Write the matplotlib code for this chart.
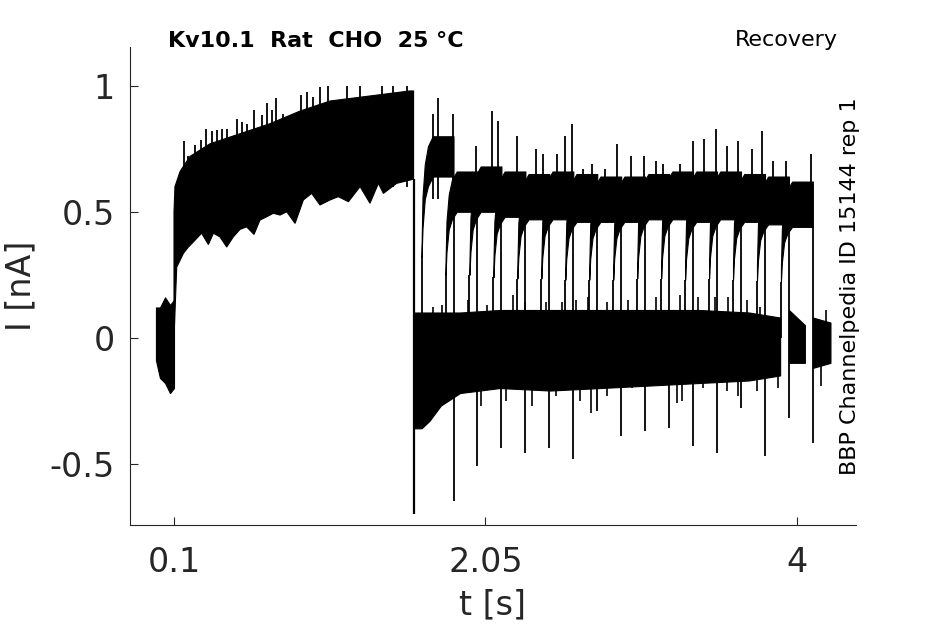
import numpy as np
import matplotlib.pyplot as plt

# holding before the first step (t in s, I in nA, envelope of the overlaid sweeps)
t_pre = [-0.013, 0.012, 0.044, 0.075, 0.1]
pre_hi = [0.12, 0.12, 0.16, 0.13, 0.15]
pre_lo = [-0.09, -0.16, -0.18, -0.22, -0.20]

# first (conditioning) pulse, 0.1 .. 1.6 s
t_p1_hi = [0.1, 0.106, 0.138, 0.2, 0.325, 0.513, 0.701, 0.889, 1.077, 1.327, 1.577, 1.6]
p1_hi = [0.50, 0.60, 0.66, 0.72, 0.77, 0.81, 0.85, 0.90, 0.94, 0.96, 0.98, 0.98]
t_p1_lo = [0.1, 0.117, 0.159, 0.19, 0.221, 0.273, 0.315, 0.347, 0.388, 0.43, 0.471,
           0.513, 0.555, 0.601, 0.638, 0.68, 0.722, 0.764, 0.806, 0.858, 0.91, 0.962,
           1.014, 1.077, 1.129, 1.192, 1.265, 1.327, 1.38, 1.411, 1.494, 1.578, 1.6]
p1_lo = [0.00, 0.28, 0.335, 0.36, 0.38, 0.415, 0.37, 0.415, 0.40, 0.36, 0.40,
         0.43, 0.44, 0.41, 0.467, 0.48, 0.494, 0.487, 0.50, 0.454, 0.547, 0.573,
         0.527, 0.547, 0.56, 0.54, 0.60, 0.534, 0.613, 0.573, 0.613, 0.626, 0.63]
p1_end_dip = -0.70

p1_spk_t = [0.163, 0.19, 0.231, 0.269, 0.30, 0.336, 0.371, 0.399, 0.43, 0.497, 0.524,
            0.555, 0.601, 0.649, 0.68, 0.712, 0.739, 0.785, 0.847, 0.893, 0.931, 0.968,
            1.014, 1.064, 1.183, 1.265, 1.403, 1.472, 1.56]
p1_spk_v = [0.78, 0.72, 0.765, 0.785, 0.83, 0.82, 0.825, 0.83, 0.83, 0.867, 0.858,
            0.85, 0.904, 0.884, 0.933, 0.904, 0.95, 0.89, 0.886, 0.964, 0.977, 0.957,
            0.997, 1.0, 1.0, 1.0, 1.0, 1.0, 1.0]

# holding between the pulses
t_hold = [1.6, 1.65, 1.70, 1.77, 1.89, 2.14, 2.455, 2.77, 3.08, 3.39, 3.70, 3.895]
hold_hi = [0.10, 0.10, 0.10, 0.10, 0.10, 0.11, 0.11, 0.11, 0.11, 0.11, 0.10, 0.08]
hold_lo = [-0.36, -0.36, -0.33, -0.27, -0.22, -0.20, -0.21, -0.20, -0.19, -0.18, -0.17, -0.15]
hold_spk_t = [1.72, 1.78, 1.94, 2.06, 2.22, 2.30, 2.43, 2.53, 2.62, 2.69, 2.81, 2.94,
              3.12, 3.27, 3.38, 3.49, 3.57, 3.69, 3.77]
hold_spk_v = [0.12, 0.13, 0.15, 0.13, 0.17, 0.14, 0.14, 0.14, 0.15, 0.16, 0.14, 0.15,
              0.16, 0.17, 0.16, 0.16, 0.16, 0.15, 0.12]
hold_dip_t = [2.02, 2.18, 2.34, 2.42, 2.49, 2.64, 2.71, 2.81, 2.97, 3.14, 3.25, 3.28,
              3.41, 3.56, 3.63, 3.75, 3.88]
hold_dip_v = [-0.27, -0.25, -0.27, -0.20, -0.23, -0.25, -0.30, -0.23, -0.20, -0.18, -0.26,
              -0.25, -0.20, -0.21, -0.23, -0.21, -0.20]

# tails of the last two sweeps
tail_t = [[3.95, 4.05], [4.10, 4.21]]
tail_hi = [[0.11, 0.05], [0.08, 0.06]]
tail_lo = [[-0.10, -0.10], [-0.12, -0.10]]
tail_spk_t = [4.18, 4.15]
tail_spk_v = [0.11, -0.19]

# second (test) pulses, one per sweep
t_on = [1.65, 1.80, 1.95, 2.10, 2.25, 2.40, 2.55, 2.70, 2.85, 3.00, 3.15, 3.30, 3.45, 3.60, 3.75, 3.90]
pulse_len = 0.2
plat_lo = [0.64, 0.50, 0.50, 0.48, 0.47, 0.47, 0.46, 0.46, 0.46, 0.47, 0.47, 0.46, 0.47, 0.46, 0.45, 0.44]
plat_hi = [0.80, 0.66, 0.68, 0.66, 0.65, 0.66, 0.65, 0.64, 0.64, 0.65, 0.66, 0.66, 0.66, 0.65, 0.64, 0.62]
end_dip = [-0.65, -0.51, -0.44, -0.46, -0.44, -0.48, -0.29, -0.39, -0.37, -0.36, -0.43, -0.46, -0.28, -0.47, -0.32, -0.42]

# activation shape of a test pulse (fraction of plateau)
rise_t = [0, 0.006, 0.02, 0.04, 0.07, 0.2]
rise_lo = [0.5, 0.68, 0.86, 0.94, 1.0, 1.0]
rise_hi = [0.45, 0.70, 0.86, 0.95, 1.0, 1.0]

top_spk_t = [1.722, 1.753, 1.847, 1.99, 2.091, 2.129, 2.248, 2.367, 2.41, 2.50, 2.549,
             2.592, 2.66, 2.72, 2.80, 2.874, 2.96, 3.04, 3.12, 3.16, 3.27, 3.35, 3.42,
             3.494, 3.56, 3.63, 3.72, 3.78, 3.85, 3.933, 4.09]
top_spk_v = [0.89, 0.95, 0.89, 0.76, 0.90, 0.86, 0.80, 0.75, 0.73, 0.73, 0.80,
             0.85, 0.67, 0.69, 0.67, 0.77, 0.72, 0.72, 0.70, 0.69, 0.69, 0.78, 0.79,
             0.83, 0.76, 0.78, 0.75, 0.82, 0.70, 0.70, 0.73]

grey = '#262626'

fig = plt.figure(figsize=(9.45, 6.24), dpi=100)
ax = fig.add_axes([130 / 945, 99 / 624, 726 / 945, 478 / 624])

kw = dict(color='k', lw=0.8, edgecolor='k')
ax.fill_between(t_pre, pre_lo, pre_hi, **kw)
ax.fill(np.r_[t_p1_hi, t_p1_lo[::-1]], np.r_[p1_hi, p1_lo[::-1]], **kw)
ax.fill_between(t_hold, hold_lo, hold_hi, **kw)
for tt, lo, hi in zip(tail_t, tail_lo, tail_hi):
    ax.fill_between(tt, lo, hi, **kw)

for k in range(len(t_on)):
    tt = np.array(t_on[k]) + np.array(rise_t)
    lo = np.array(rise_lo) * plat_lo[k]
    hi = np.array(rise_hi) * plat_hi[k]
    hi = np.maximum(hi, lo)
    ax.fill_between(tt, lo, hi, **kw)
    # jump at onset and tail dip at the end of the pulse
    ax.vlines(t_on[k], 0.0, lo[0], color='k', lw=1.3)
    ax.vlines(t_on[k] + pulse_len, end_dip[k], plat_lo[k], color='k', lw=1.3)

ax.vlines(t_p1_lo[-1], p1_end_dip, p1_lo[-1], color='k', lw=1.6)

# noise spikes
ax.vlines(p1_spk_t, 0.6, p1_spk_v, color='k', lw=1.3)
ax.vlines(hold_spk_t, 0.0, hold_spk_v, color='k', lw=1.2)
ax.vlines(hold_dip_t, hold_dip_v, 0.0, color='k', lw=1.2)
ax.vlines(tail_spk_t, 0.0, tail_spk_v, color='k', lw=1.2)
ax.vlines(top_spk_t, 0.55, top_spk_v, color='k', lw=1.3)

ax.set_xlim(-0.1755, 4.370)
ax.set_ylim(-0.744, 1.1545)
ax.set_xticks([0.1, 2.05, 4])
ax.set_xticklabels(['0.1', '2.05', '4'])
ax.set_yticks([-0.5, 0, 0.5, 1])
ax.set_yticklabels(['-0.5', '0', '0.5', '1'])

for s in ['top', 'right']:
    ax.spines[s].set_visible(False)
for s in ['left', 'bottom']:
    ax.spines[s].set_color(grey)
    ax.spines[s].set_linewidth(0.8)
ax.tick_params(direction='in', length=5.5, width=0.8, color=grey,
               labelcolor=grey, labelsize=24)
ax.tick_params(axis='y', pad=11)
ax.tick_params(axis='x', pad=15)

ax.set_xlabel('t [s]', fontsize=24, color=grey)
ax.set_ylabel('I [nA]', fontsize=24, color=grey)
ax.xaxis.set_label_coords(0.5, -63 / 478)
ax.yaxis.set_label_coords(-93 / 726, 0.5)

fig.text(168 / 945, (624 - 47) / 624, 'Kv10.1  Rat  CHO  25 °C', fontsize=16,
         fontweight='bold', ha='left', va='baseline')
fig.text(838 / 945, (624 - 46) / 624, 'Recovery', fontsize=16,
         ha='right', va='baseline')
ax.text((850 - 130) / 726, 0.5, 'BBP Channelpedia ID 15144 rep 1', fontsize=16,
        rotation=90, ha='center', va='center', transform=ax.transAxes)

fig.savefig('out.png', dpi=100)
